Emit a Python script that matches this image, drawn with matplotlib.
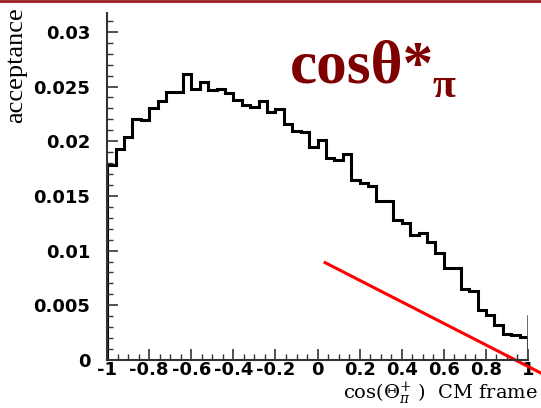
import numpy as np

import matplotlib
matplotlib.use('Agg')

import matplotlib.pyplot as plt
from matplotlib.lines import Line2D
from matplotlib.ticker import MultipleLocator

# acceptance per bin, 50 bins of cos(theta*) from -1 to 1
acceptance = [0.0178, 0.0193, 0.0204, 0.0220, 0.0219, 0.0230, 0.0237, 0.0245, 0.0245, 0.0261,
              0.0248, 0.0254, 0.0247, 0.0248, 0.0244, 0.0238, 0.0233, 0.0231, 0.0237, 0.0227,
              0.0229, 0.0216, 0.0209, 0.0208, 0.0195, 0.0201, 0.0185, 0.0183, 0.0188, 0.0165,
              0.0162, 0.0159, 0.0145, 0.0145, 0.0128, 0.0125, 0.0114, 0.0116, 0.0108, 0.0098,
              0.0084, 0.0084, 0.0065, 0.0063, 0.0046, 0.0041, 0.0032, 0.0024, 0.0023, 0.0021]
end_bar = 0.0040

red_x = [0.036, 1.062]
red_y = [0.0089, -0.0012]

xticks = [-1, -0.8, -0.6, -0.4, -0.2, 0, 0.2, 0.4, 0.6, 0.8, 1]
xtick_labels = ['-1', '-0.8', '-0.6', '-0.4', '-0.2', '0', '0.2', '0.4', '0.6', '0.8', '1']
yticks = [0, 0.005, 0.01, 0.015, 0.02, 0.025, 0.03]
ytick_labels = ['0', '0.005', '0.01', '0.015', '0.02', '0.025', '0.03']

plt.rcParams['mathtext.fontset'] = 'dejavuserif'

fig = plt.figure(figsize=(5.41, 4.08), dpi=100)
ax = fig.add_axes([0.198, 0.1176, 0.778, 0.85])

edges = np.linspace(-1, 1, len(acceptance) + 1)
ax.stairs(acceptance, edges, color='black', lw=2.2, baseline=0)
ax.plot([1, 1], [0, end_bar], color='#555555', lw=1.2)
ax.plot(red_x, red_y, color='#ff0000', lw=2.2, clip_on=False)

ax.set_xlim(-1, 1)
ax.set_ylim(0, 0.0317)
for s in ['top', 'right']:
    ax.spines[s].set_visible(False)
for s in ['left', 'bottom']:
    ax.spines[s].set_linewidth(1.5)
    ax.spines[s].set_color('#333333')

ax.set_xticks(xticks)
ax.set_xticklabels(xtick_labels)
ax.set_yticks(yticks)
ax.set_yticklabels(ytick_labels)
ax.xaxis.set_minor_locator(MultipleLocator(0.05))
ax.yaxis.set_minor_locator(MultipleLocator(0.001))
ax.tick_params(which='major', direction='in', length=8, width=1.2, color='#333333')
ax.tick_params(which='minor', direction='in', length=4, width=1.0, color='#333333')
ax.tick_params(axis='y', pad=12)
ax.tick_params(axis='x', pad=1)
for lab in ax.get_xticklabels() + ax.get_yticklabels():
    lab.set_fontweight('bold')
    lab.set_fontsize(13)

fig.text(0.994, 0.023, r'cos($\Theta_{\pi}^{+}$ )  CM frame', ha='right', va='baseline',
         family='DejaVu Serif', fontsize=14)
fig.text(0.03, 0.841, 'acceptance', rotation=90, ha='center', va='center',
         family='Liberation Serif', fontsize=19)

fig.text(0.536, 0.799, 'cos\u03b8*', color='#7f0000', family='Liberation Serif',
         fontweight='bold', fontsize=44, ha='left', va='baseline')
fig.text(0.8, 0.762, '\u03c0', color='#7f0000', family='Liberation Serif',
         fontweight='bold', fontsize=30, ha='left', va='baseline')

fig.add_artist(Line2D([0, 1], [0.997, 0.997], color='#9b1c1c', lw=2))

fig.savefig('out.png', dpi=100)
